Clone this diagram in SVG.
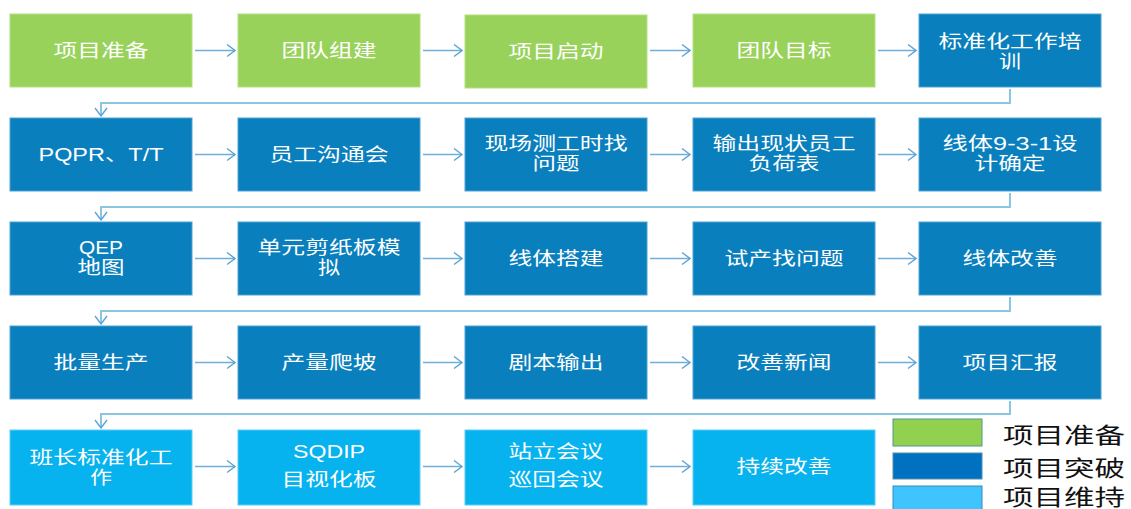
<svg xmlns="http://www.w3.org/2000/svg" width="1131" height="509" viewBox="0 0 1131 509">
<defs>
<marker id="ah" viewBox="0 0 10 14" refX="9" refY="7" markerWidth="10" markerHeight="14" markerUnits="userSpaceOnUse" orient="auto">
<path d="M1,1 L9,7 L1,13" fill="none" stroke="#5DA4D3" stroke-width="1.4"/>
</marker>
<style>
.g{fill:#98D25A;stroke:#B4E07E;stroke-width:1}
.b{fill:#0A7FBD;stroke:#4FA3D3;stroke-width:1}
.l{fill:#06B3EE;stroke:#5FCDF3;stroke-width:1}
.t{font-family:"Liberation Sans","Noto Sans CJK SC",sans-serif;font-size:18px;fill:#ffffff;text-anchor:middle;dominant-baseline:central}
.c{fill:none;stroke:#6FAFD9;stroke-width:1.5}
.r{fill:none;stroke:#8CC4E4;stroke-width:2}
.lg{font-family:"Liberation Sans","Noto Sans CJK SC",sans-serif;font-size:22px;fill:#111111}
</style>
</defs>
<g id="connectors">
<path class="c" d="M195,50.5 H235" marker-end="url(#ah)"/>
<path class="c" d="M423,50.5 H462" marker-end="url(#ah)"/>
<path class="c" d="M650,50.5 H690" marker-end="url(#ah)"/>
<path class="c" d="M878,50.5 H916" marker-end="url(#ah)"/>
<path class="c" d="M195,154.5 H235" marker-end="url(#ah)"/>
<path class="c" d="M423,154.5 H462" marker-end="url(#ah)"/>
<path class="c" d="M650,154.5 H690" marker-end="url(#ah)"/>
<path class="c" d="M878,154.5 H916" marker-end="url(#ah)"/>
<path class="c" d="M195,258.5 H235" marker-end="url(#ah)"/>
<path class="c" d="M423,258.5 H462" marker-end="url(#ah)"/>
<path class="c" d="M650,258.5 H690" marker-end="url(#ah)"/>
<path class="c" d="M878,258.5 H916" marker-end="url(#ah)"/>
<path class="c" d="M195,362.5 H235" marker-end="url(#ah)"/>
<path class="c" d="M423,362.5 H462" marker-end="url(#ah)"/>
<path class="c" d="M650,362.5 H690" marker-end="url(#ah)"/>
<path class="c" d="M878,362.5 H916" marker-end="url(#ah)"/>
<path class="c" d="M195,466.5 H235" marker-end="url(#ah)"/>
<path class="c" d="M423,466.5 H462" marker-end="url(#ah)"/>
<path class="c" d="M650,466.5 H690" marker-end="url(#ah)"/>
<path class="r" d="M1010,89 V103 H101 V116" marker-end="url(#ah)"/>
<path class="r" d="M1010,193 V207 H101 V220" marker-end="url(#ah)"/>
<path class="r" d="M1010,297 V311 H101 V324" marker-end="url(#ah)"/>
<path class="r" d="M1010,401 V414 H101 V428" marker-end="url(#ah)"/>
</g>
<g id="n1"><rect class="g" x="10" y="14" width="182" height="73"/><text class="t" x="101" y="50.5" textLength="95" lengthAdjust="spacingAndGlyphs">项目准备</text></g>
<g id="n2"><rect class="g" x="238" y="14" width="182" height="73"/><text class="t" x="329" y="50.5" textLength="95" lengthAdjust="spacingAndGlyphs">团队组建</text></g>
<g id="n3"><rect class="g" x="465" y="15" width="182" height="73"/><text class="t" x="556" y="51.5" textLength="95" lengthAdjust="spacingAndGlyphs">项目启动</text></g>
<g id="n4"><rect class="g" x="693" y="14" width="182" height="73"/><text class="t" x="784" y="50.5" textLength="95" lengthAdjust="spacingAndGlyphs">团队目标</text></g>
<g id="n5"><rect class="b" x="919" y="14" width="182" height="73"/><text class="t" x="1010" y="42" textLength="143" lengthAdjust="spacingAndGlyphs">标准化工作培</text><text class="t" x="1010" y="62" textLength="22" lengthAdjust="spacingAndGlyphs">训</text></g>
<g id="n6"><rect class="b" x="10" y="118" width="182" height="73"/><text class="t" x="101" y="154.5" textLength="125" lengthAdjust="spacingAndGlyphs">PQPR、T/T</text></g>
<g id="n7"><rect class="b" x="238" y="118" width="182" height="73"/><text class="t" x="329" y="154.5" textLength="119" lengthAdjust="spacingAndGlyphs">员工沟通会</text></g>
<g id="n8"><rect class="b" x="465" y="118" width="182" height="73"/><text class="t" x="556" y="144" textLength="143" lengthAdjust="spacingAndGlyphs">现场测工时找</text><text class="t" x="556" y="164" textLength="47" lengthAdjust="spacingAndGlyphs">问题</text></g>
<g id="n9"><rect class="b" x="693" y="118" width="182" height="73"/><text class="t" x="784" y="144" textLength="143" lengthAdjust="spacingAndGlyphs">输出现状员工</text><text class="t" x="784" y="164" textLength="71" lengthAdjust="spacingAndGlyphs">负荷表</text></g>
<g id="n10"><rect class="b" x="919" y="118" width="182" height="73"/><text class="t" x="1010" y="144" textLength="135" lengthAdjust="spacingAndGlyphs">线体9-3-1设</text><text class="t" x="1010" y="164" textLength="71" lengthAdjust="spacingAndGlyphs">计确定</text></g>
<g id="n11"><rect class="b" x="10" y="222" width="182" height="73"/><text class="t" x="101" y="248" textLength="44" lengthAdjust="spacingAndGlyphs">QEP</text><text class="t" x="101" y="268" textLength="47" lengthAdjust="spacingAndGlyphs">地图</text></g>
<g id="n12"><rect class="b" x="238" y="222" width="182" height="73"/><text class="t" x="329" y="248" textLength="143" lengthAdjust="spacingAndGlyphs">单元剪纸板模</text><text class="t" x="329" y="268" textLength="22" lengthAdjust="spacingAndGlyphs">拟</text></g>
<g id="n13"><rect class="b" x="465" y="222" width="182" height="73"/><text class="t" x="556" y="258.5" textLength="95" lengthAdjust="spacingAndGlyphs">线体搭建</text></g>
<g id="n14"><rect class="b" x="693" y="222" width="182" height="73"/><text class="t" x="784" y="258.5" textLength="119" lengthAdjust="spacingAndGlyphs">试产找问题</text></g>
<g id="n15"><rect class="b" x="919" y="222" width="182" height="73"/><text class="t" x="1010" y="258.5" textLength="95" lengthAdjust="spacingAndGlyphs">线体改善</text></g>
<g id="n16"><rect class="b" x="10" y="326" width="182" height="73"/><text class="t" x="101" y="362.5" textLength="95" lengthAdjust="spacingAndGlyphs">批量生产</text></g>
<g id="n17"><rect class="b" x="238" y="326" width="182" height="73"/><text class="t" x="329" y="362.5" textLength="95" lengthAdjust="spacingAndGlyphs">产量爬坡</text></g>
<g id="n18"><rect class="b" x="465" y="326" width="182" height="73"/><text class="t" x="556" y="362.5" textLength="95" lengthAdjust="spacingAndGlyphs">剧本输出</text></g>
<g id="n19"><rect class="b" x="693" y="326" width="182" height="73"/><text class="t" x="784" y="362.5" textLength="95" lengthAdjust="spacingAndGlyphs">改善新闻</text></g>
<g id="n20"><rect class="b" x="919" y="326" width="182" height="73"/><text class="t" x="1010" y="362.5" textLength="95" lengthAdjust="spacingAndGlyphs">项目汇报</text></g>
<g id="n21"><rect class="l" x="10" y="430" width="182" height="75"/><text class="t" x="101" y="458" textLength="143" lengthAdjust="spacingAndGlyphs">班长标准化工</text><text class="t" x="101" y="478" textLength="22" lengthAdjust="spacingAndGlyphs">作</text></g>
<g id="n22"><rect class="l" x="238" y="430" width="182" height="75"/><text class="t" x="329" y="452" textLength="72" lengthAdjust="spacingAndGlyphs">SQDIP</text><text class="t" x="329" y="480" textLength="95" lengthAdjust="spacingAndGlyphs">目视化板</text></g>
<g id="n23"><rect class="l" x="465" y="430" width="182" height="75"/><text class="t" x="556" y="452" textLength="95" lengthAdjust="spacingAndGlyphs">站立会议</text><text class="t" x="556" y="480" textLength="95" lengthAdjust="spacingAndGlyphs">巡回会议</text></g>
<g id="n24"><rect class="l" x="693" y="430" width="182" height="75"/><text class="t" x="784" y="466.5" textLength="95" lengthAdjust="spacingAndGlyphs">持续改善</text></g>
<g id="legend">
<rect x="893" y="419" width="89" height="27" fill="#92D050" stroke="#4E9A8A" stroke-width="1"/>
<rect x="893" y="453" width="89" height="26" fill="#0070C0" stroke="#4E8FB0" stroke-width="1"/>
<rect x="893" y="486" width="89" height="26" fill="#40C4FF" stroke="#2E8FB8" stroke-width="1"/>
<text class="lg" x="1003" y="443" textLength="122" lengthAdjust="spacingAndGlyphs">项目准备</text>
<text class="lg" x="1003" y="476" textLength="122" lengthAdjust="spacingAndGlyphs">项目突破</text>
<text class="lg" x="1003" y="505" textLength="122" lengthAdjust="spacingAndGlyphs">项目维持</text>
</g>
</svg>
